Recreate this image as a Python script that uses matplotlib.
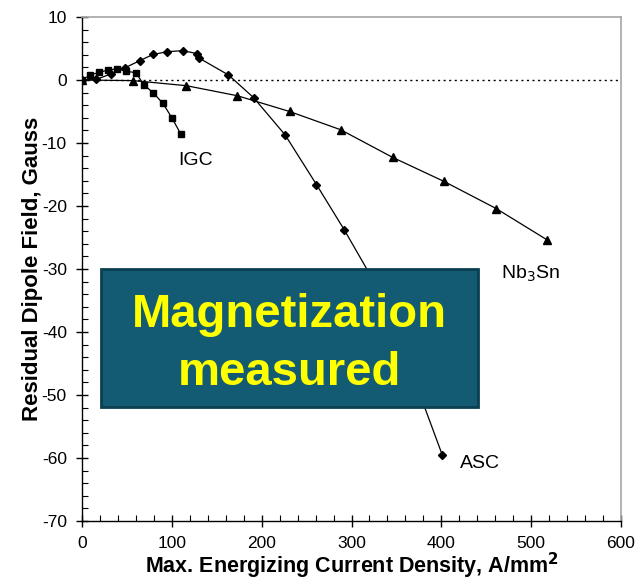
import matplotlib
matplotlib.use("Agg")
import matplotlib.pyplot as plt
from matplotlib.patches import Rectangle
from matplotlib.ticker import MultipleLocator

plt.rcParams["font.family"] = ["Liberation Sans", "DejaVu Sans"]
plt.rcParams["axes.unicode_minus"] = False

# IGC (squares)
igc_x = [0, 9, 19, 29, 39, 49, 60, 69, 79, 90, 100, 110]
igc_y = [0.0, 0.8, 1.2, 1.6, 1.75, 1.4, 1.15, -0.8, -2.0, -3.7, -6.0, -8.6]

# ASC (diamonds)
asc_x = [0, 16, 32, 48, 64, 79, 95, 112, 128, 130, 163, 191, 226, 261, 292, 338, 401]
asc_y = [0.0, 0.1, 0.95, 1.95, 3.05, 4.05, 4.5, 4.65, 4.2, 3.5, 0.8, -2.8, -8.7,
         -16.6, -23.8, -35.2, -59.5]

# Nb3Sn (triangles)
nb_x = [0, 57, 116, 173, 231, 288, 346, 403, 461, 518]
nb_y = [0.0, -0.1, -0.9, -2.5, -5.0, -7.9, -12.3, -16.1, -20.4, -25.4]

fs = 12.5
lw = 0.9
box_color = "#135A73"

fig = plt.figure(figsize=(6.36, 5.8), dpi=100)
ax = fig.add_axes([0.129, 0.1017, 0.8474, 0.869])

ax.axhline(0, color="black", linestyle=(0, (1.5, 2.5)), linewidth=1.0, zorder=1)

ax.plot(nb_x, nb_y, color="black", linewidth=lw, marker="^", markersize=6, zorder=3)
ax.plot(asc_x, asc_y, color="black", linewidth=lw, marker="D", markersize=3.8, zorder=3)
ax.plot(igc_x, igc_y, color="black", linewidth=lw, marker="s", markersize=4.8, zorder=4)

ax.set_xlim(0, 600)
ax.set_ylim(-70, 10)
ax.xaxis.set_major_locator(MultipleLocator(100))
ax.xaxis.set_minor_locator(MultipleLocator(20))
ax.yaxis.set_major_locator(MultipleLocator(10))
ax.yaxis.set_minor_locator(MultipleLocator(2))
ax.tick_params(which="major", direction="inout", length=8, width=1, labelsize=fs)
ax.tick_params(axis="x", which="major", pad=7)
ax.tick_params(axis="y", which="major", pad=7)
ax.tick_params(which="minor", direction="in", length=4, width=0.8)

for side in ("top", "right"):
    ax.spines[side].set_color("#A6A6A6")
    ax.spines[side].set_linewidth(1.2)
for side in ("left", "bottom"):
    ax.spines[side].set_color("black")
    ax.spines[side].set_linewidth(1.0)

ax.set_xlabel("Max. Energizing Current Density, A/mm$^\\mathbf{2}$",
              fontsize=15.5, fontweight="bold", labelpad=0)
ax.set_ylabel("Residual Dipole Field, Gauss", fontsize=16, fontweight="bold", labelpad=-1)

ax.text(126, -12.7, "IGC", fontsize=14, ha="center", va="center")
ax.text(499, -30.7, "Nb$_3$Sn", fontsize=14, ha="center", va="center")
ax.text(443, -60.8, "ASC", fontsize=14, ha="center", va="center")

# annotation box
ax.add_patch(Rectangle((0.0354, 0.226), 0.700, 0.274, transform=ax.transAxes,
                       facecolor=box_color, edgecolor="#0B3F52", linewidth=2, zorder=5))
ax.text(0.385, 0.3855, "Magnetization", transform=ax.transAxes, fontsize=34,
        fontweight="bold", color="#FFFF00", ha="center", va="baseline", zorder=6)
ax.text(0.385, 0.27, "measured", transform=ax.transAxes, fontsize=34,
        fontweight="bold", color="#FFFF00", ha="center", va="baseline", zorder=6)

fig.savefig("out.png", dpi=100)
